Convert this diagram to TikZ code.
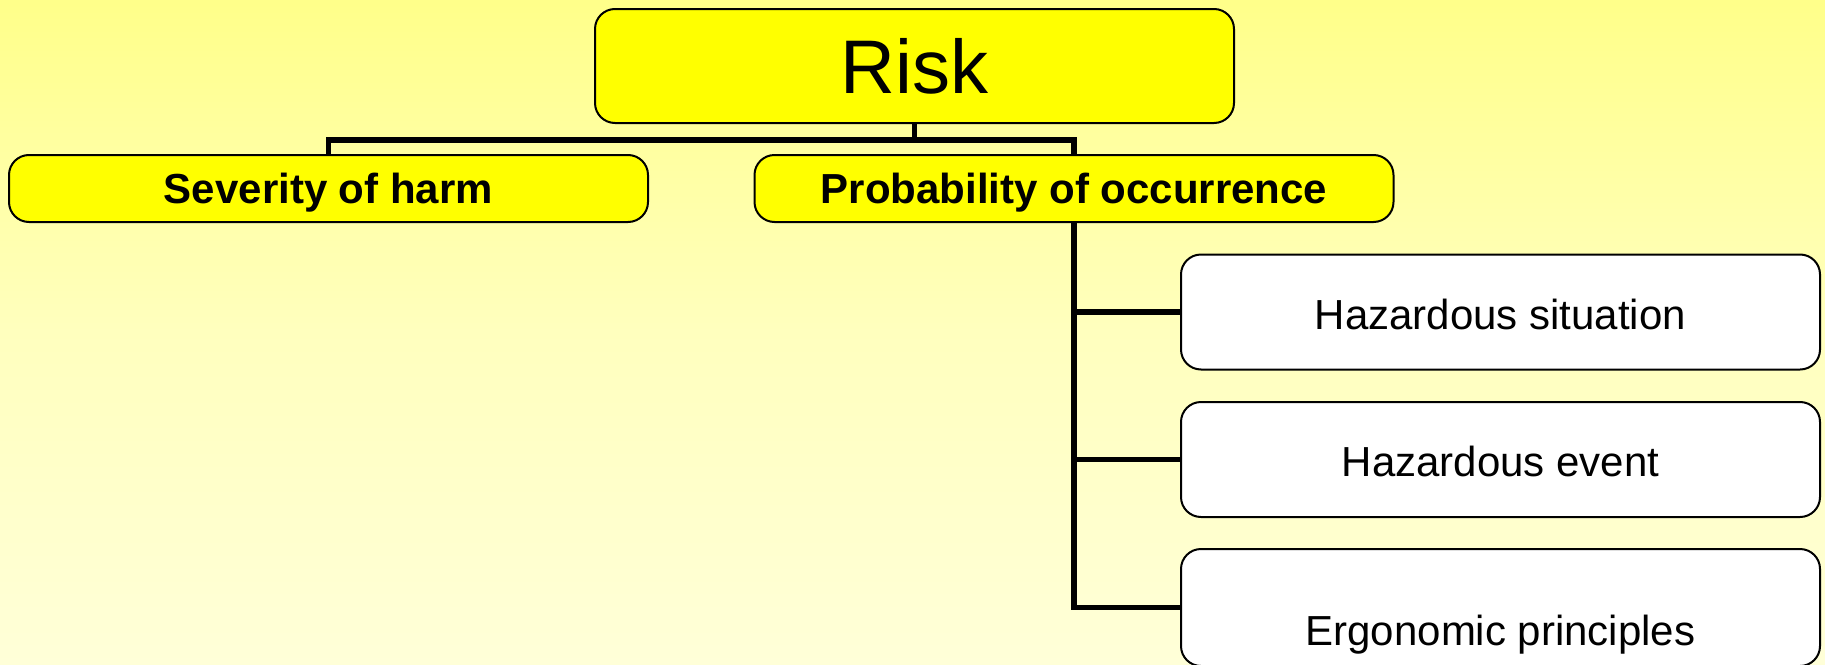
\documentclass[tikz,border=0pt]{standalone}
\usepackage{fontspec}
\setmainfont{Liberation Sans}
\usetikzlibrary{calc}

\definecolor{bgtop}{RGB}{255,255,85}
\definecolor{bgmid}{RGB}{255,255,190}
\definecolor{bgbot}{RGB}{255,255,242}
\definecolor{boxyellow}{RGB}{255,255,0}

% vertical background shading: 0bp is the bottom edge
\pgfdeclareverticalshading{slidebg}{100bp}{%
  color(0bp)=(bgbot); color(50bp)=(bgmid); color(100bp)=(bgtop)}

\tikzset{
  box/.style={draw=black, line width=1pt, rounded corners=10pt,
              inner sep=0pt, align=center, text=black},
  yellowbox/.style={box, fill=boxyellow},
  whitebox/.style={box, fill=white, minimum width=319.5pt, minimum height=57.5pt,
                   text height=17pt, text depth=0pt,
                   font=\fontsize{21}{25}\selectfont},
  subbox/.style={yellowbox, minimum width=319.5pt, minimum height=33.5pt,
                 text height=14.5pt, text depth=0pt,
                 font=\fontsize{21}{25}\selectfont\bfseries},
  wire/.style={draw=black, line width=2.75pt}
}

\begin{document}
\begin{tikzpicture}[x=0.5pt, y=-0.5pt]
  % page frame with the yellow-to-white background
  \path[shading=slidebg] (0,0) rectangle (1825,664);
  \useasboundingbox (0,0) rectangle (1825,664);

  % top node and its two children
  \node[yellowbox, minimum width=319.5pt, minimum height=57pt,
        font=\fontsize{38}{44}\selectfont] (risk) at (914.5,66) {Risk};
  \node[subbox] (sev)  at (328.5,188.5) {Severity of harm};
  \node[subbox] (prob) at (1074,188.5) {Probability of occurrence};

  % factors of probability
  \node[whitebox] (sit) at (1500.5,312)   {Hazardous situation};
  \node[whitebox] (evt) at (1500.5,459.5) {Hazardous event};
  \node[whitebox, minimum height=58.5pt] (erg) at (1500.5,607.5) {};
  \node[anchor=base, font=\fontsize{21}{25}\selectfont, inner sep=0pt]
       (ergtext) at ($(erg.center)+(0,37.5)$) {Ergonomic principles};

  % tree connectors: bus under the top node, spine down the right branch
  \coordinate (bus) at (914.5,140);
  \path[wire] (risk.south) -- (bus);
  \path[wire] (sev.north) |- (bus) -| (prob.north);
  \path[wire] (prob.south) |- (sit.west);
  \path[wire] (prob.south) |- (evt.west);
  \path[wire] (prob.south) |- (erg.west);
\end{tikzpicture}
\end{document}
